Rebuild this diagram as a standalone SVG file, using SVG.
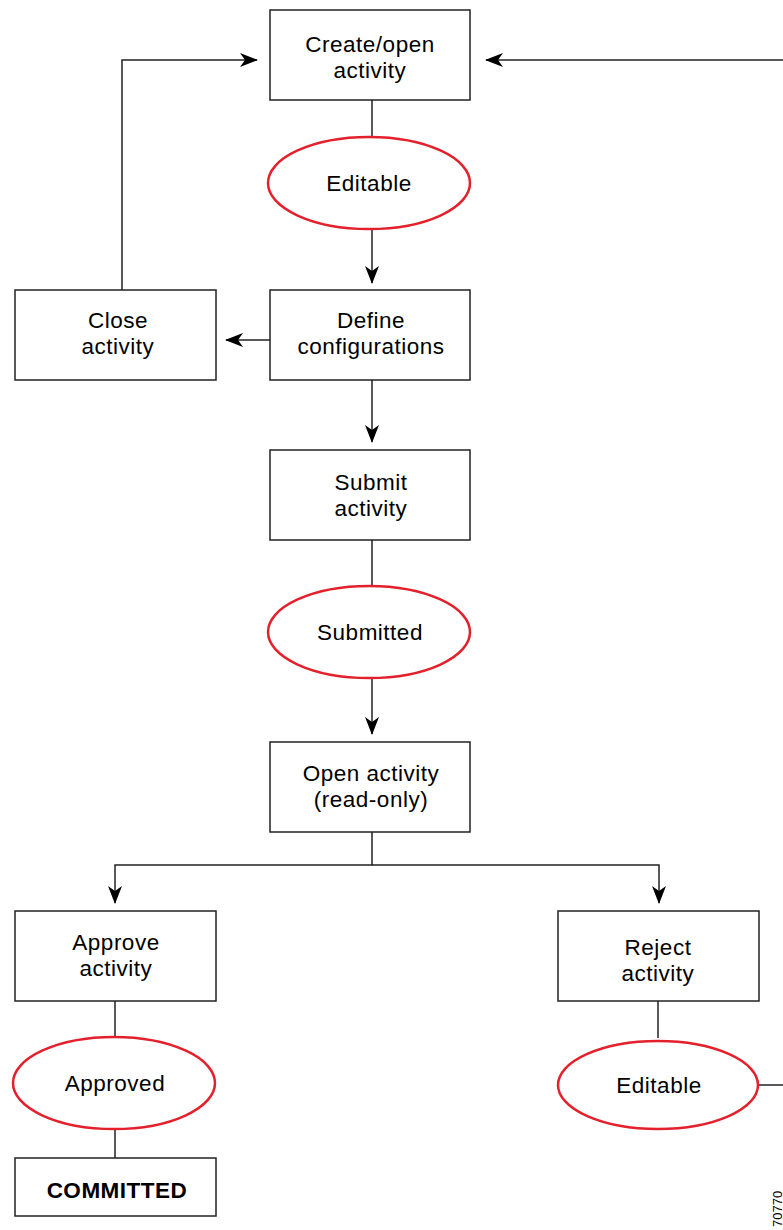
<svg xmlns="http://www.w3.org/2000/svg" width="783" height="1230" viewBox="0 0 783 1230">
<style>
.box{fill:#fff;stroke:#222;stroke-width:1.5}
.oval{fill:#fff;stroke:#e3202b;stroke-width:2.5}
.t{font-family:"Liberation Sans",Arial,sans-serif;font-size:22.5px;letter-spacing:0.5px;fill:#000;text-anchor:middle}
.b{font-weight:bold}
.c{fill:none;stroke:#222;stroke-width:1.5}
</style>
<defs>
<marker id="ah" markerWidth="18" markerHeight="14" refX="17" refY="7" orient="auto" markerUnits="userSpaceOnUse">
<path d="M0,0 L18,7 L0,14 L5,7 Z" fill="#000"/>
</marker>
</defs>
<g id="connectors">
<line class="c" x1="372" y1="100" x2="372" y2="136"/>
<line class="c" x1="372" y1="230" x2="372" y2="283" marker-end="url(#ah)"/>
<line class="c" x1="270" y1="340" x2="226" y2="340" marker-end="url(#ah)"/>
<polyline class="c" points="122,290 122,60 257,60" marker-end="url(#ah)"/>
<line class="c" x1="372" y1="380" x2="372" y2="442" marker-end="url(#ah)"/>
<line class="c" x1="372" y1="540" x2="372" y2="585"/>
<line class="c" x1="372" y1="679" x2="372" y2="734" marker-end="url(#ah)"/>
<polyline class="c" points="372,832 372,865 115,865 115,903" marker-end="url(#ah)"/>
<polyline class="c" points="372,865 659,865 659,903" marker-end="url(#ah)"/>
<line class="c" x1="115" y1="1001" x2="115" y2="1036"/>
<line class="c" x1="115" y1="1130" x2="115" y2="1158"/>
<line class="c" x1="658" y1="1001" x2="658" y2="1038"/>
<line class="c" x1="759" y1="1085" x2="790" y2="1085"/>
<line class="c" x1="790" y1="60" x2="486" y2="60" marker-end="url(#ah)"/>
</g>
<g id="create-open">
<rect class="box" x="270" y="10" width="200" height="90"/>
<text class="t" x="370" y="52">Create/open</text>
<text class="t" x="370" y="78">activity</text>
</g>
<g id="editable-1">
<ellipse class="oval" cx="369" cy="183" rx="101" ry="46"/>
<text class="t" x="369" y="191">Editable</text>
</g>
<g id="close-activity">
<rect class="box" x="15" y="290" width="201" height="90"/>
<text class="t" x="118" y="328">Close</text>
<text class="t" x="118" y="354">activity</text>
</g>
<g id="define-configurations">
<rect class="box" x="270" y="290" width="200" height="90"/>
<text class="t" x="371" y="328">Define</text>
<text class="t" x="371" y="354">configurations</text>
</g>
<g id="submit-activity">
<rect class="box" x="270" y="450" width="200" height="90"/>
<text class="t" x="371" y="490">Submit</text>
<text class="t" x="371" y="516">activity</text>
</g>
<g id="submitted">
<ellipse class="oval" cx="369" cy="632" rx="101" ry="46"/>
<text class="t" x="370" y="640">Submitted</text>
</g>
<g id="open-activity">
<rect class="box" x="270" y="742" width="200" height="90"/>
<text class="t" x="371" y="781">Open activity</text>
<text class="t" x="371" y="807">(read-only)</text>
</g>
<g id="approve-activity">
<rect class="box" x="15" y="911" width="201" height="90"/>
<text class="t" x="116" y="950">Approve</text>
<text class="t" x="116" y="976">activity</text>
</g>
<g id="reject-activity">
<rect class="box" x="558" y="911" width="201" height="90"/>
<text class="t" x="658" y="955">Reject</text>
<text class="t" x="658" y="981">activity</text>
</g>
<g id="approved">
<ellipse class="oval" cx="114" cy="1083" rx="101" ry="46"/>
<text class="t" x="115" y="1091">Approved</text>
</g>
<g id="editable-2">
<ellipse class="oval" cx="658" cy="1085" rx="100" ry="44"/>
<text class="t" x="659" y="1093">Editable</text>
</g>
<g id="committed">
<rect class="box" x="15" y="1158" width="201" height="58"/>
<text class="t b" x="117" y="1198">COMMITTED</text>
</g>
<text font-family="'Liberation Sans',Arial,sans-serif" font-size="13" fill="#000" transform="translate(782,1227) rotate(-90)">70770</text>
</svg>
